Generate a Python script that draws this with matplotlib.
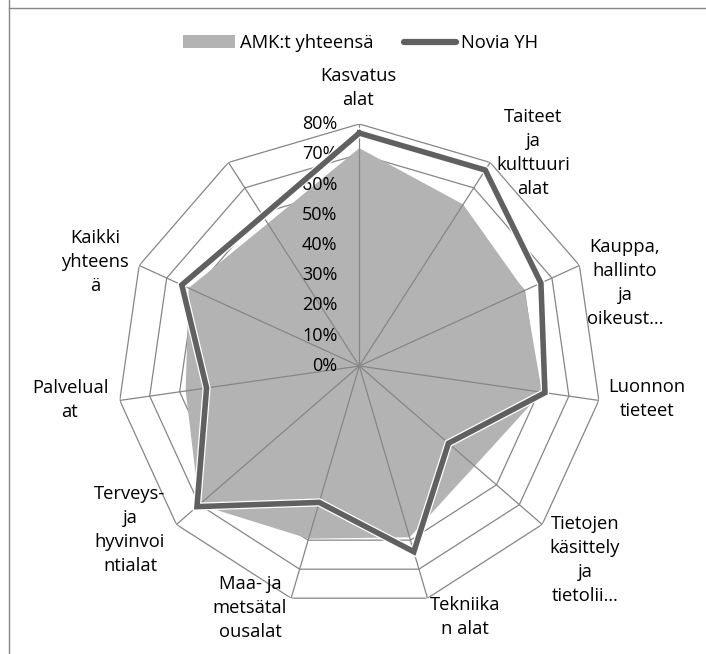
import matplotlib
matplotlib.use("Agg")
import matplotlib.pyplot as plt
import matplotlib.patheffects as pe
import matplotlib.transforms as mtransforms
from matplotlib.patches import Patch
from matplotlib.lines import Line2D
import numpy as np

plt.rcParams['font.family'] = ['Open Sans', 'DejaVu Sans']

# data (share, 0..1)
labels = ["Kasvatus\nalat", "Taiteet\nja\nkulttuuri\nalat", "Kauppa,\nhallinto\nja\noikeust…",
          "Luonnon\ntieteet", "Tietojen\nkäsittely\nja\ntietolii…", "Tekniika\nn alat",
          "Maa- ja\nmetsätal\nousalat", "Terveys-\nja\nhyvinvoi\nntialat", "Palvelual\nat",
          "Kaikki\nyhteens\nä", ""]
amk = [0.72, 0.635, 0.60, 0.61, 0.505, 0.59, 0.595, 0.70, 0.58, 0.62, 0.56]
novia = [0.77, 0.77, 0.66, 0.62, 0.39, 0.64, 0.47, 0.71, 0.51, 0.645, 0.59]
ticks = [0, 0.1, 0.2, 0.3, 0.4, 0.5, 0.6, 0.7, 0.8]
tick_labels = ["0%", "10%", "20%", "30%", "40%", "50%", "60%", "70%", "80%"]

# label centres in pixels (layout only)
label_pos = [(358, 88), (533, 153), (625, 283), (647, 399), (585, 560),
             (465, 617), (250, 608), (130, 530), (70, 400), (95, 262), (0, 0)]

W, H = 706, 654
fs = 13.2
fig = plt.figure(figsize=(W / 100, H / 100), dpi=100)

cx, cy, R = 359.3, 366, 242
ax = fig.add_axes([(cx - R) / W, (H - cy - R) / H, 2 * R / W, 2 * R / H], projection='polar')
ax.set_theta_zero_location('N')
ax.set_theta_direction(-1)
ax.set_ylim(0, 0.8)
ax.set_axis_off()

n = len(amk)
theta = np.linspace(0, 2 * np.pi, n, endpoint=False)
tc = np.append(theta, theta[0])

grid_col = '#868686'
# rings (under the area)
for t in ticks[1:]:
    ax.plot(tc, [t] * (n + 1), color=grid_col, lw=0.9, zorder=1)

ax.fill(tc, amk + amk[:1], color='#B3B3B3', lw=0, zorder=2)

# spokes over the area
for a in theta:
    ax.plot([a, a], [0, 0.8], color=grid_col, lw=0.9, zorder=3)

ax.plot(tc, novia + novia[:1], color='#606060', lw=4.0, zorder=4,
        solid_joinstyle='miter',
        path_effects=[pe.Stroke(linewidth=5.8, foreground='white'), pe.Normal()])

# radial tick labels
off = mtransforms.offset_copy(ax.transData, fig=fig, x=-22, y=0, units='dots')
for t, s in zip(ticks, tick_labels):
    ax.text(0, t, s, transform=off, ha='right', va='center', fontsize=13, color='black')

for s, (x, y) in zip(labels, label_pos):
    if s:
        fig.text(x / W, 1 - y / H, s, ha='center', va='center', multialignment='center',
                 fontsize=fs, linespacing=1.45)

handles = [Patch(facecolor='#B3B3B3', edgecolor='none'),
           Line2D([], [], color='#606060', lw=4.5, solid_capstyle='round')]
fig.legend(handles, ["AMK:t yhteensä", "Novia YH"], loc='center', bbox_to_anchor=(0.511, 1 - 43 / H),
           ncol=2, frameon=False, fontsize=fs, handlelength=2.84, handletextpad=0.27,
           columnspacing=1.64)

# chart frame edges visible in the crop
fig.add_artist(Line2D([9 / W, 1], [1 - 8 / H, 1 - 8 / H], color=grid_col, lw=1))
fig.add_artist(Line2D([9 / W, 9 / W], [0, 1], color=grid_col, lw=1))

fig.savefig("out.png", dpi=100)
